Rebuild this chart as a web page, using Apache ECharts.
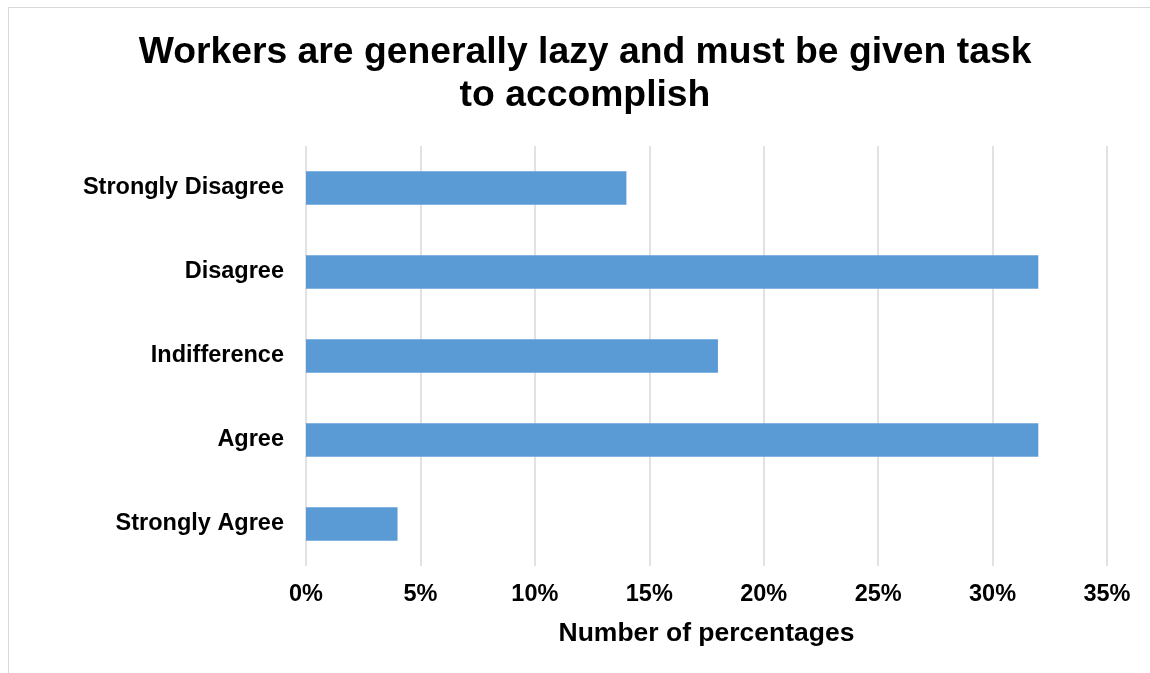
<!DOCTYPE html>
<html>
<head>
<meta charset="utf-8">
<script src="https://cdn.jsdelivr.net/npm/echarts@6/dist/echarts.min.js"></script>
<style>
  html, body { margin: 0; padding: 0; background: #fff; }
  #chart { width: 1150px; height: 673px; }
</style>
</head>
<body>
<div id="chart"></div>
<script>
// Survey responses, listed top to bottom as shown
const categories = ['Strongly Disagree', 'Disagree', 'Indifference', 'Agree', 'Strongly Agree'];
const percentages = [14, 32, 18, 32, 4];
const titleText = 'Workers are generally lazy and must be given task\nto accomplish';
const axisName = 'Number of percentages';

const FONT = '"Liberation Sans", Arial, sans-serif';
const chart = echarts.init(document.getElementById('chart'), null, { renderer: 'canvas' });

chart.setOption({
  animation: false,
  backgroundColor: '#ffffff',
  title: {
    text: titleText,
    left: 580,
    top: 26,
    textAlign: 'center',
    textStyle: {
      fontFamily: FONT,
      fontWeight: 'bold',
      fontSize: 37.3,
      lineHeight: 43,
      color: '#000'
    }
  },
  graphic: [{
    type: 'rect',
    silent: true,
    shape: { x: 8.5, y: 7.5, width: 1300, height: 800 },
    style: { fill: 'none', stroke: '#d9d9d9', lineWidth: 1 }
  }],
  grid: { left: 306, right: 43, top: 146, bottom: 107, containLabel: false },
  xAxis: {
    type: 'value',
    min: 0,
    max: 35,
    interval: 5,
    name: axisName,
    nameLocation: 'middle',
    nameGap: 54,
    nameTextStyle: { fontFamily: FONT, fontWeight: 'bold', fontSize: 26.5, color: '#000' },
    axisLine: { show: false },
    axisTick: { show: false },
    axisLabel: {
      formatter: '{value}%',
      margin: 17,
      fontFamily: FONT,
      fontWeight: 'bold',
      fontSize: 23.5,
      color: '#000'
    },
    splitLine: { show: true, lineStyle: { color: '#d9d9d9', width: 1.5 } }
  },
  yAxis: {
    type: 'category',
    data: categories,
    inverse: true,
    axisLine: { show: false },
    axisTick: { show: false },
    axisLabel: {
      margin: 22,
      fontFamily: FONT,
      fontWeight: 'bold',
      fontSize: 23.5,
      color: '#000'
    },
    splitLine: { show: false }
  },
  series: [{
    type: 'bar',
    data: percentages,
    barWidth: '40%',
    itemStyle: { color: '#5b9bd5' }
  }]
});
</script>
</body>
</html>
